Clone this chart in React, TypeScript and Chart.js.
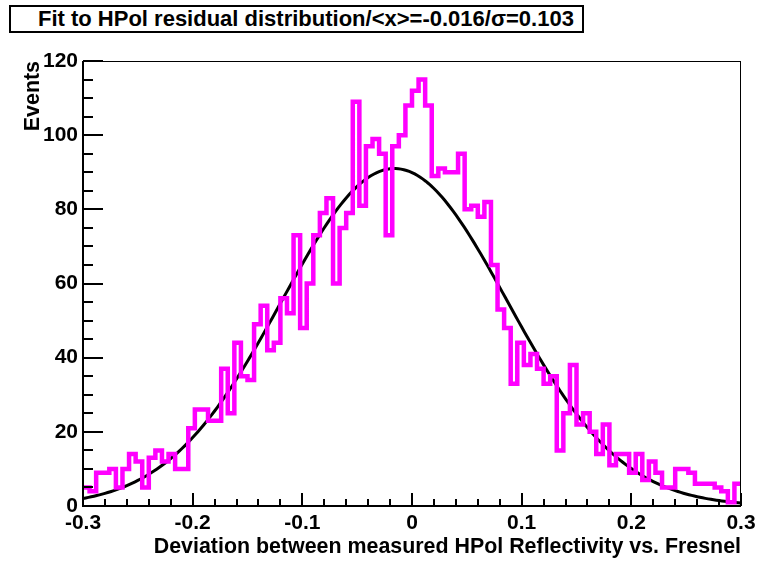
import React, { useEffect, useRef } from "react";
import { Chart, registerables } from "chart.js";

Chart.register(...registerables);

// ---- data ----
const X_MIN = -0.3;
const X_MAX = 0.3;
const N_BINS = 100;
const COUNTS = [
  5, 4, 9, 9, 10, 5, 10, 14, 12, 5,
  13, 15, 12, 14, 10, 10, 21, 26, 26, 23,
  23, 37, 25, 44, 35, 34, 49, 54, 42, 44,
  56, 52, 73, 48, 60, 73, 79, 83, 60, 75,
  79, 109, 81, 97, 99, 95, 73, 97, 100, 108,
  112, 115, 108, 89, 91, 90, 90, 95, 80, 81,
  78, 82, 65, 53, 48, 33, 44, 38, 41, 37,
  33, 35, 15, 25, 38, 22, 25, 20, 14, 22,
  11, 14, 14, 9, 14, 7, 12, 9, 5, 5,
  10, 10, 9, 6, 6, 6, 5, 4, 1, 6,
];
const FIT_MEAN = -0.016;
const FIT_SIGMA = 0.103;
const FIT_AMP = 91;
const FIT_POINTS = 240;

const X_TICKS = [-0.3, -0.2, -0.1, 0, 0.1, 0.2, 0.3];
const X_MINOR_STEP = 0.02;
const Y_MIN = 0;
const Y_MAX = 120;
const Y_TICKS = [0, 20, 40, 60, 80, 100, 120];
const Y_MINOR_STEP = 5;

const TITLE = "Fit to HPol residual distribution/<x>=-0.016/\u03c3=0.103";
const X_TITLE = "Deviation between measured HPol Reflectivity vs. Fresnel";
const Y_TITLE = "Events";

const FONT = "'Liberation Sans', Arial, Helvetica, sans-serif";

function fmt(v: number): string {
  if (Math.abs(v) < 1e-9) return "0";
  return String(Number(v.toFixed(1)));
}

const rootAxesPlugin = {
  id: "rootAxes",
  afterDatasetsDraw(chart: any) {
    const { ctx, chartArea: a, scales } = chart;
    const xs = scales.x;
    const ys = scales.y;
    ctx.save();
    ctx.strokeStyle = "#000";
    // frame
    ctx.lineWidth = 1;
    ctx.strokeRect(a.left + 0.5, a.top + 0.5, a.right - a.left - 1, a.bottom - a.top - 1);
    // axes lines
    ctx.lineWidth = 2;
    ctx.beginPath();
    ctx.moveTo(a.left, a.top);
    ctx.lineTo(a.left, a.bottom);
    ctx.lineTo(a.right, a.bottom);
    ctx.stroke();
    // x ticks
    ctx.beginPath();
    const nx = Math.round((X_MAX - X_MIN) / X_MINOR_STEP);
    for (let k = 0; k <= nx; k++) {
      const v = X_MIN + k * X_MINOR_STEP;
      const px = Math.round(xs.getPixelForValue(v));
      const major = k % 5 === 0;
      ctx.moveTo(px, a.bottom);
      ctx.lineTo(px, a.bottom - (major ? 13 : 7));
    }
    // y ticks
    const ny = Math.round((Y_MAX - Y_MIN) / Y_MINOR_STEP);
    for (let k = 0; k <= ny; k++) {
      const v = Y_MIN + k * Y_MINOR_STEP;
      const py = Math.round(ys.getPixelForValue(v));
      const major = k % 4 === 0;
      ctx.moveTo(a.left, py);
      ctx.lineTo(a.left + (major ? 20 : 10), py);
    }
    ctx.stroke();
    // axis titles
    ctx.fillStyle = "#000";
    ctx.font = `bold 21.4px ${FONT}`;
    ctx.textAlign = "right";
    ctx.textBaseline = "alphabetic";
    ctx.fillText(X_TITLE, a.right, 553);
    ctx.translate(39, a.top);
    ctx.rotate(-Math.PI / 2);
    ctx.textAlign = "right";
    ctx.fillText(Y_TITLE, 0, 0);
    ctx.restore();
  },
};

export default function App() {
  const ref = useRef<HTMLCanvasElement | null>(null);
  useEffect(() => {
    if (!ref.current) return;
    const binW = (X_MAX - X_MIN) / N_BINS;
    const hist = COUNTS.map((c, i) => ({ x: X_MIN + i * binW, y: c }));
    hist.push({ x: X_MAX, y: COUNTS[COUNTS.length - 1] });
    const fit: { x: number; y: number }[] = [];
    for (let i = 0; i <= FIT_POINTS; i++) {
      const x = X_MIN + ((X_MAX - X_MIN) * i) / FIT_POINTS;
      const z = (x - FIT_MEAN) / FIT_SIGMA;
      fit.push({ x, y: FIT_AMP * Math.exp(-0.5 * z * z) });
    }
    const chart = new Chart(ref.current, {
      type: "line",
      data: {
        datasets: [
          {
            data: hist,
            stepped: "before",
            borderColor: "#ff00ff",
            borderWidth: 4.5,
            pointRadius: 0,
            fill: false,
            borderJoinStyle: "miter",
            borderCapStyle: "butt",
          },
          {
            data: hist,
            stepped: "before",
            borderColor: "#ffb8ff",
            borderWidth: 1.2,
            pointRadius: 0,
            fill: false,
            borderJoinStyle: "miter",
          },
          {
            data: fit,
            borderColor: "#000000",
            borderWidth: 3,
            pointRadius: 0,
            fill: false,
            tension: 0,
          },
        ],
      } as any,
      options: {
        responsive: false,
        animation: false,
        devicePixelRatio: 1,
        layout: { padding: { left: 0, top: 61, right: 20, bottom: 0 } },
        plugins: { legend: { display: false }, tooltip: { enabled: false }, title: { display: false } },
        scales: {
          x: {
            type: "linear",
            min: X_MIN,
            max: X_MAX,
            grid: { display: false, drawTicks: false },
            border: { display: false },
            afterFit: (s: any) => {
              s.height = 56;
            },
            afterBuildTicks: (s: any) => {
              s.ticks = X_TICKS.map((v) => ({ value: v }));
            },
            ticks: {
              autoSkip: false,
              maxRotation: 0,
              minRotation: 0,
              padding: 5,
              color: "#000",
              font: { family: FONT, size: 21, weight: "bold" },
              callback: (v: any) => fmt(Number(v)),
            },
          },
          y: {
            type: "linear",
            min: Y_MIN,
            max: Y_MAX,
            grid: { display: false, drawTicks: false },
            border: { display: false },
            afterFit: (s: any) => {
              s.width = 83;
            },
            afterBuildTicks: (s: any) => {
              s.ticks = Y_TICKS.map((v) => ({ value: v }));
            },
            ticks: {
              autoSkip: false,
              padding: 5,
              color: "#000",
              font: { family: FONT, size: 21, weight: "bold" },
              callback: (v: any) => String(v),
            },
          },
        },
      } as any,
      plugins: [rootAxesPlugin],
    });
    return () => chart.destroy();
  }, []);

  return (
    <div style={{ position: "absolute", left: 0, top: 0, width: 761, height: 562, background: "#fff" }}>
      <canvas ref={ref} width={761} height={562} style={{ position: "absolute", left: 0, top: 0 }} />
      <div
        style={{
          position: "absolute",
          left: 9,
          top: 5,
          width: 575,
          height: 28,
          border: "2px solid #000",
          boxSizing: "border-box",
          background: "#fff",
        }}
      >
        <span
          style={{
            position: "absolute",
            left: 27,
            top: 0,
            lineHeight: "24px",
            whiteSpace: "nowrap",
            fontFamily: FONT,
            fontWeight: "bold",
            fontSize: 22,
            color: "#000",
          }}
        >
          {TITLE}
        </span>
      </div>
    </div>
  );
}
